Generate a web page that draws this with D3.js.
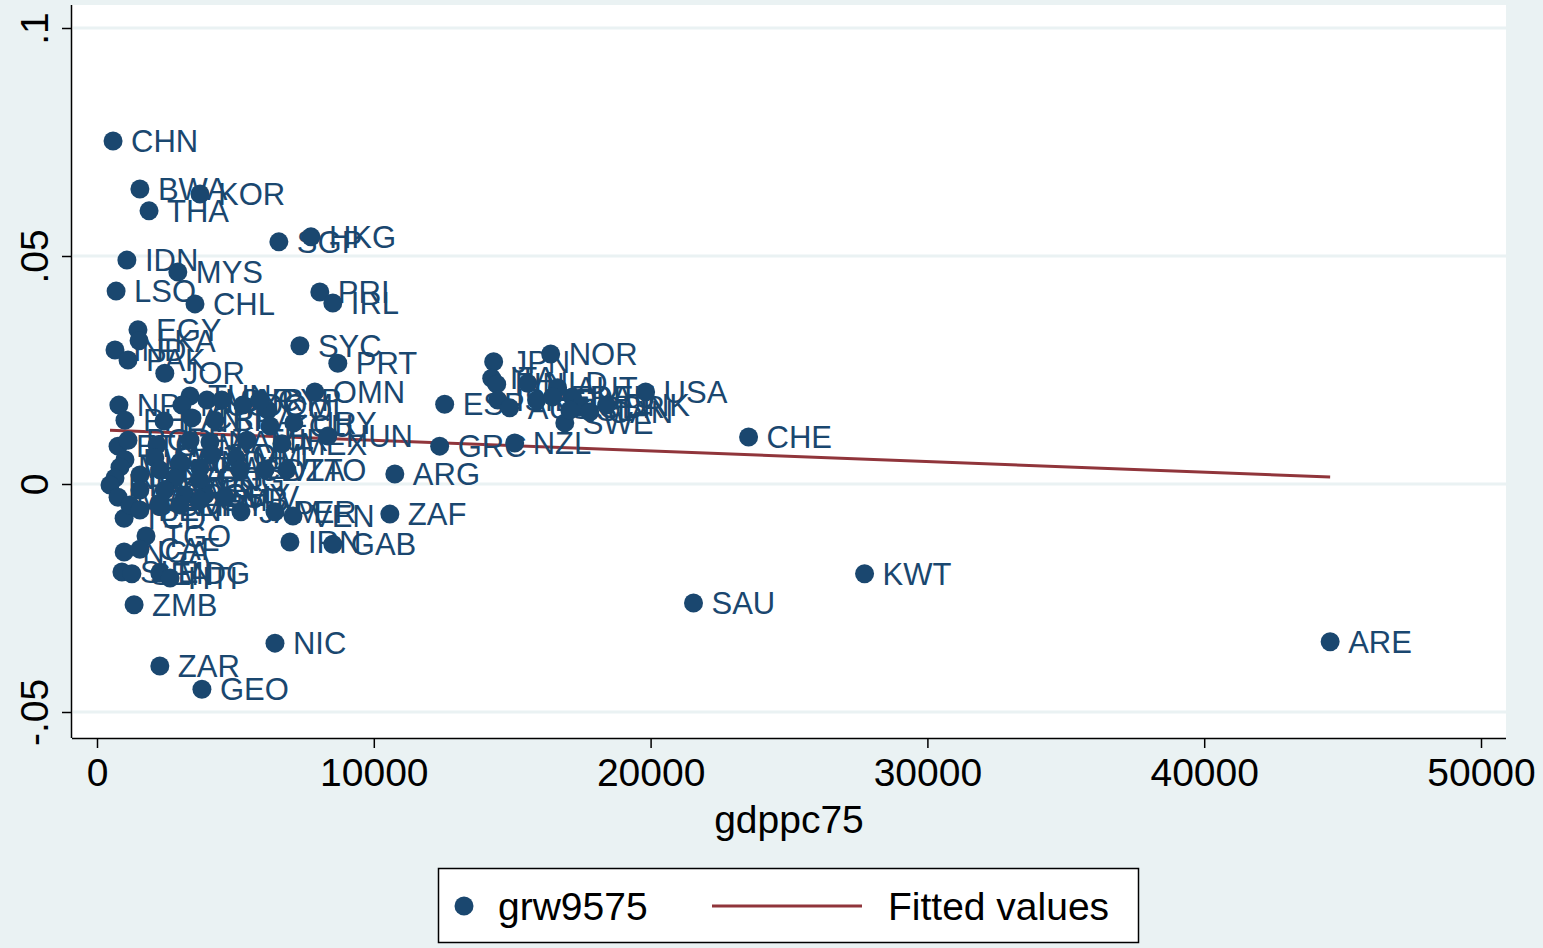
<!DOCTYPE html>
<html>
<head>
<meta charset="utf-8">
<script src="https://cdn.jsdelivr.net/npm/d3@7"></script>
<style>
  body { margin: 0; background: #eaf2f3; }
  svg { display: block; font-family: "Liberation Sans", Arial, sans-serif; }
</style>
</head>
<body>
<svg id="draw"></svg>
<script>
// country codes, GDP per capita 1975, growth 1975-95
var countries = ["CHN","BWA","KOR","THA","HKG","SGP","IDN","MYS","LSO","CHL","PRI","IRL",
  "EGY","LKA","IND","PAK","JOR","SYC","PRT","OMN","NPL","TUN","MAR","SYR","DOM","COL",
  "MUS","CYP","PHL","PAN","CRI","BRA","URY","ECU","ETH","BGD","GTM","FJI","NAM","TUR",
  "MEX","HUN","RWA","SWZ","ROM","MLT","MLI","UGA","KEN","HND","ZWE","CIV","DZA","TTO",
  "ARG","NER","COG","BFA","MWI","GHA","CMR","BOL","GUY","SLV","PNG","TCD","GIN","BEN",
  "SDN","MRT","GMB","JAM","PER","VEN","ZAF","TGO","IRN","GAB","NGA","CAF","SLE","SEN",
  "MDG","HTI","ZMB","NIC","ZAR","GEO","KWT","SAU","ARE","CHE","GRC","NZL","ESP","USA",
  "NOR","JPN","ITA","FIN","NLD","AUT","ISR","AUS","BEL","FRA","DEU","GBR","CAN","DNK",
  "SWE","ISL"];
var gdppc75 = [580,1550,3720,1880,7730,6570,1080,2920,690,3540,8050,8520,
  1480,1520,650,1120,2450,7330,8700,7870,790,3360,3970,4510,5270,6170,
  3070,5880,1010,2420,3430,4260,7110,6250,760,1120,2170,3360,4080,5420,
  6680,8340,1010,2090,4150,5020,830,1550,2270,3000,3720,5160,6070,6860,
  10760,650,2820,470,760,1550,2450,3180,3900,4620,3700,980,1190,1550,
  2270,3000,3720,5200,6430,7080,10580,1770,6970,8520,980,1550,900,1260,
  2270,2640,1340,6430,2270,3790,27730,21550,44550,23540,12380,15090,12560,19820,
  16390,14330,14260,14440,15560,16640,14480,14910,15880,16460,17180,17440,17800,18410,
  16900,17080];
var grw9575 = [.0752,.0647,.0636,.0599,.0542,.0531,.0491,.0465,.0423,.0395,.0421,.0397,
  .0338,.0314,.0294,.0272,.0243,.0303,.0265,.0202,.0173,.0193,.0184,.0184,.0173,.0162,
  .0173,.0184,.0140,.0138,.0145,.0140,.0134,.0127,.0083,.0096,.0086,.0096,.0092,.0096,
  .0088,.0105,.0053,.0057,.0064,.0057,.0037,.0020,.0031,.0048,.0035,.0031,.0031,.0031,
  .0022,.0013,.0013,-.0002,-.0029,-.0013,-.0013,-.0024,-.0024,-.0029,.0010,-.0075,-.0046,-.0057,
  -.0046,-.0046,-.0035,-.0061,-.0061,-.0070,-.0066,-.0114,-.0127,-.0132,-.0149,-.0143,-.0193,-.0197,
  -.0195,-.0206,-.0265,-.0349,-.0399,-.0450,-.0197,-.0261,-.0346,.0103,.0083,.0090,.0175,.0202,
  .0285,.0268,.0232,.0219,.0221,.0211,.0184,.0167,.0184,.0191,.0191,.0169,.0158,.0173,
  .0134,.0162];

// linear fit
var fitIntercept = 0.0119;
var fitSlope = -2.33e-7;

var xTicks = [0, 10000, 20000, 30000, 40000, 50000];
var yTicks = [-0.05, 0, 0.05, 0.1];
var yTickLabels = ["-.05", "0", ".05", ".1"];

var width = 1543, height = 948;
var navy = "#1a476f", maroon = "#90353b", grid = "#eaf2f3";

var svg = d3.select("#draw").attr("width", width).attr("height", height);

var x = d3.scaleLinear().domain([0, 50000]).range([97, 1481]);
var y = d3.scaleLinear().domain([-0.05, 0.1]).range([712, 28]);

// plot region
svg.append("rect")
  .attr("x", 72).attr("y", 5)
  .attr("width", 1506 - 72).attr("height", 738 - 5)
  .attr("fill", "#fff");

svg.selectAll(".grid")
  .data(yTicks)
  .enter().append("line")
  .attr("class", "grid")
  .attr("x1", 73).attr("x2", 1506)
  .attr("y1", d => y(d)).attr("y2", d => y(d))
  .attr("stroke", grid).attr("stroke-width", 3);

// axes
var xAxis = d3.axisBottom(x).tickValues(xTicks).tickSize(10).tickPadding(10)
  .tickFormat(d3.format("d"));
var gx = svg.append("g").attr("transform", "translate(0,738)").call(xAxis);
gx.select(".domain").attr("d", "M72,0.5H1506").attr("stroke", "#000").attr("stroke-width", 1.5);
gx.selectAll(".tick line").attr("stroke", "#000").attr("stroke-width", 1.5);
gx.selectAll(".tick text").attr("font-size", 39).attr("fill", "#000")
  .attr("font-family", "Liberation Sans, Arial, sans-serif");

var yAxis = d3.axisLeft(y).tickValues(yTicks).tickSize(10)
  .tickFormat((d, i) => yTickLabels[i]);
var gy = svg.append("g").attr("transform", "translate(72,0)").call(yAxis);
gy.select(".domain").attr("d", "M-0.5,5V738").attr("stroke", "#000").attr("stroke-width", 1.5);
gy.selectAll(".tick line").attr("stroke", "#000").attr("stroke-width", 1.5);
gy.selectAll(".tick text")
  .attr("font-size", 39).attr("fill", "#000")
  .attr("font-family", "Liberation Sans, Arial, sans-serif")
  .attr("x", null).attr("dy", null)
  .attr("text-anchor", "middle")
  .attr("transform", "translate(-24,0) rotate(-90)");

svg.append("text")
  .attr("x", 789).attr("y", 833)
  .attr("text-anchor", "middle")
  .attr("font-size", 39)
  .text("gdppc75");

// fitted line
var xExt = d3.extent(gdppc75);
svg.append("line")
  .attr("x1", x(xExt[0])).attr("y1", y(fitIntercept + fitSlope * xExt[0]))
  .attr("x2", x(xExt[1])).attr("y2", y(fitIntercept + fitSlope * xExt[1]))
  .attr("stroke", maroon).attr("stroke-width", 3);

// points and labels
var pts = countries.map((c, i) => ({ code: c, gdp: gdppc75[i], grw: grw9575[i] }));

var g = svg.append("g");
g.selectAll("circle")
  .data(pts)
  .enter().append("circle")
  .attr("cx", d => x(d.gdp))
  .attr("cy", d => y(d.grw))
  .attr("r", 9.5)
  .attr("fill", navy);

g.selectAll("text")
  .data(pts)
  .enter().append("text")
  .attr("x", d => x(d.gdp) + 18)
  .attr("y", d => y(d.grw))
  .attr("dy", "0.36em")
  .attr("font-size", 31)
  .attr("fill", navy)
  .text(d => d.code);

// legend
var leg = svg.append("g");
leg.append("rect")
  .attr("x", 438.5).attr("y", 868.5)
  .attr("width", 700).attr("height", 74)
  .attr("fill", "#fff").attr("stroke", "#000").attr("stroke-width", 1.5);
leg.append("circle").attr("cx", 464).attr("cy", 906).attr("r", 9.5).attr("fill", navy);
leg.append("text").attr("x", 498).attr("y", 906).attr("dy", "0.36em")
  .attr("font-size", 39).text("grw9575");
leg.append("line").attr("x1", 712).attr("x2", 862).attr("y1", 906).attr("y2", 906)
  .attr("stroke", maroon).attr("stroke-width", 3);
leg.append("text").attr("x", 888).attr("y", 906).attr("dy", "0.36em")
  .attr("font-size", 39).text("Fitted values");
</script>
</body>
</html>
